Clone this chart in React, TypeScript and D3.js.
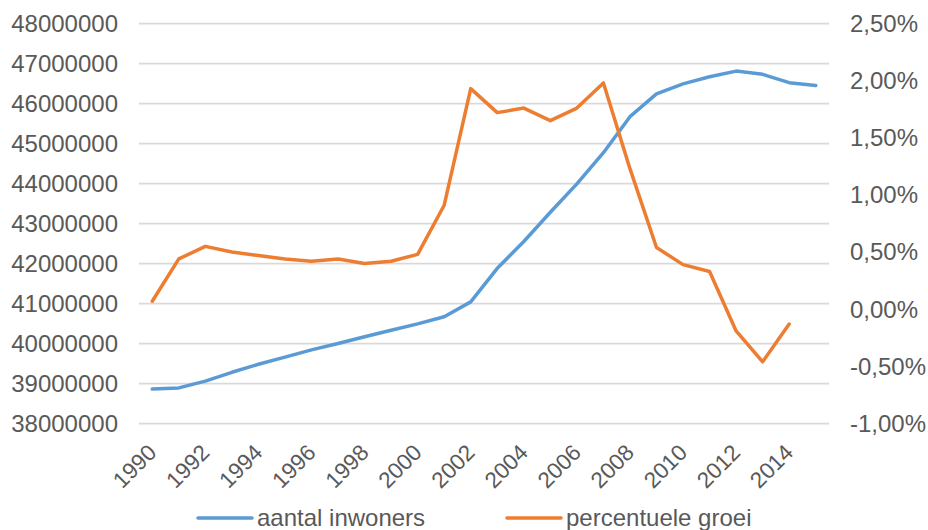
import React from "react";
import * as d3 from "d3";

// Population (millions) and year-over-year growth (%) per year
const years: number[] = [
  1990, 1991, 1992, 1993, 1994, 1995, 1996, 1997, 1998, 1999, 2000, 2001, 2002,
  2003, 2004, 2005, 2006, 2007, 2008, 2009, 2010, 2011, 2012, 2013, 2014, 2015,
];

const inwonersMiljoen: number[] = [
  38.86, 38.89, 39.06, 39.28, 39.48, 39.66, 39.84, 40.0, 40.17, 40.33, 40.49,
  40.67, 41.04, 41.88, 42.55, 43.28, 43.99, 44.77, 45.67, 46.24, 46.49, 46.67,
  46.81, 46.73, 46.52, 46.45,
];

const groeiProcent: (number | null)[] = [
  0.07, 0.44, 0.55, 0.5, 0.47, 0.44, 0.42, 0.44, 0.4, 0.42, 0.48, 0.91, 1.93,
  1.72, 1.76, 1.65, 1.76, 1.98, 1.23, 0.54, 0.39, 0.33, -0.19, -0.46, -0.13,
  null,
];

const leftTicks: number[] = [
  38000000, 39000000, 40000000, 41000000, 42000000, 43000000, 44000000,
  45000000, 46000000, 47000000, 48000000,
];
const rightTicks: number[] = [-1, -0.5, 0, 0.5, 1, 1.5, 2, 2.5];
const yearTicks: number[] = years.filter((y) => y % 2 === 0);

const seriesNames = ["aantal inwoners", "percentuele groei"];
const seriesColors = ["#5B9BD5", "#ED7D31"];

const W = 928;
const H = 530;
const FONT = "'Liberation Sans', Arial, sans-serif";
const TEXT = "#595959";

export default function App() {
  const x = d3
    .scaleBand<number>()
    .domain(years)
    .range([139, 829])
    .padding(0);
  const cx = (yr: number) => (x(yr) as number) + x.bandwidth() / 2;

  const yLeft = d3.scaleLinear().domain([38000000, 48000000]).range([423.5, 23.5]);
  const yRight = d3.scaleLinear().domain([-1, 2.5]).range([423.5, 23.5]);

  const popLine = d3
    .line<number>()
    .x((_, i) => cx(years[i]))
    .y((d) => yLeft(d * 1e6));

  const growthLine = d3
    .line<number | null>()
    .defined((d) => d !== null)
    .x((_, i) => cx(years[i]))
    .y((d) => yRight(d as number));

  const fmtPct = (v: number) => v.toFixed(2).replace(".", ",") + "%";

  return (
    <svg
      width={W}
      height={H}
      style={{ position: "absolute", left: 0, top: 0, background: "#fff" }}
      fontFamily={FONT}
    >
      <rect width={W} height={H} fill="#fff" />
      {/* horizontal gridlines */}
      {leftTicks.map((t) => (
        <line
          key={"g" + t}
          x1={139}
          x2={829}
          y1={yLeft(t)}
          y2={yLeft(t)}
          stroke="#D9D9D9"
          strokeWidth={1.75}
        />
      ))}
      {/* left axis labels */}
      {leftTicks.map((t) => (
        <text
          key={"l" + t}
          x={118}
          y={yLeft(t)}
          dy="0.35em"
          textAnchor="end"
          fontSize={24}
          fill={TEXT}
        >
          {d3.format("d")(t)}
        </text>
      ))}
      {/* right axis labels */}
      {rightTicks.map((t) => (
        <text
          key={"r" + t}
          x={850}
          y={yRight(t)}
          dy="0.35em"
          textAnchor="start"
          fontSize={24}
          fill={TEXT}
        >
          {fmtPct(t)}
        </text>
      ))}
      {/* rotated year labels */}
      {yearTicks.map((yr) => {
        const tx = cx(yr) + 5.5;
        const ty = 454;
        return (
          <text
            key={"x" + yr}
            x={tx}
            y={ty}
            textAnchor="end"
            fontSize={22.5}
            fill={TEXT}
            transform={`rotate(-45, ${tx}, ${ty})`}
          >
            {yr}
          </text>
        );
      })}
      {/* series */}
      <path
        d={popLine(inwonersMiljoen) || ""}
        fill="none"
        stroke={seriesColors[0]}
        strokeWidth={3.5}
        strokeLinejoin="round"
        strokeLinecap="round"
      />
      <path
        d={growthLine(groeiProcent) || ""}
        fill="none"
        stroke={seriesColors[1]}
        strokeWidth={3.5}
        strokeLinejoin="round"
        strokeLinecap="round"
      />
      {/* legend */}
      {[198, 507].map((lx, i) => (
        <g key={"leg" + i}>
          <line
            x1={lx}
            x2={lx + 54}
            y1={518}
            y2={518}
            stroke={seriesColors[i]}
            strokeWidth={3.5}
            strokeLinecap="round"
          />
          <text x={lx + 59} y={518} dy="0.35em" fontSize={24} fill={TEXT}>
            {seriesNames[i]}
          </text>
        </g>
      ))}
    </svg>
  );
}
